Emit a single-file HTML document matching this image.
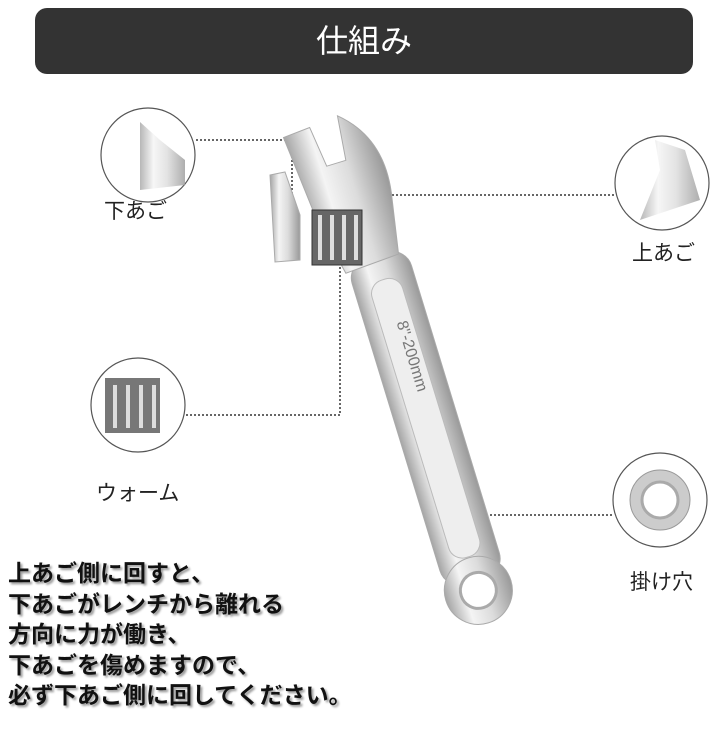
<!DOCTYPE html>
<html><head><meta charset="utf-8"><style>
html,body{margin:0;padding:0;background:#fff;width:720px;height:730px;overflow:hidden;font-family:"Liberation Sans","Noto Sans CJK JP",sans-serif;}
.hdr{position:absolute;left:35px;top:8px;width:658px;height:66px;background:#333;border-radius:12px;color:#fff;font-size:32px;text-align:center;line-height:66px;}
.lbl{position:absolute;font-size:21px;color:#222;}
.bt{position:absolute;left:8px;top:558px;font-size:23px;font-weight:bold;line-height:30.5px;color:#111;text-shadow:2px 2px 2px #999;white-space:nowrap;}
svg{position:absolute;left:0;top:0;}
</style></head><body>
<div class="hdr">仕組み</div>
<svg width="720" height="730">
<defs>
<linearGradient id="m" x1="0" x2="1"><stop offset="0" stop-color="#a5a5a5"/><stop offset=".3" stop-color="#f4f4f4"/><stop offset=".6" stop-color="#dcdcdc"/><stop offset="1" stop-color="#999"/></linearGradient>
</defs>
<g stroke="#333" stroke-width="1.5" stroke-dasharray="2,2" fill="none">
<polyline points="196,140 292,140 292,205"/>
<polyline points="614,195 360,195"/>
<polyline points="186,415 340,415 340,258"/>
<polyline points="612,515 465,515 465,555"/>
</g>
<g transform="rotate(-17 420 420)">
<rect x="395" y="250" width="62" height="340" rx="20" fill="url(#m)" stroke="#aaa"/>
<rect x="410" y="275" width="32" height="290" rx="14" fill="#eee" stroke="#bbb"/>
<circle cx="426" cy="600" r="34" fill="url(#m)" stroke="#aaa"/>
<circle cx="426" cy="600" r="18" fill="#fff" stroke="#aaa" stroke-width="3"/>
<path d="M372 110 L400 108 L405 150 L425 150 L430 105 Q470 140 458 200 L448 255 L392 258 L380 200 Z" fill="url(#m)" stroke="#aaa"/>
<text x="426" y="320" font-size="16" fill="#777" transform="rotate(90 426 320)">8"-200mm</text>
</g>
<path d="M270 175 L285 172 L300 215 L300 260 L275 262 Z" fill="url(#m)" stroke="#aaa"/>
<rect x="312" y="210" width="50" height="55" fill="#666" stroke="#333"/>
<g stroke="#ddd" stroke-width="4"><line x1="320" y1="215" x2="320" y2="260"/><line x1="332" y1="215" x2="332" y2="260"/><line x1="344" y1="215" x2="344" y2="260"/><line x1="356" y1="215" x2="356" y2="260"/></g>
<g fill="#fff" stroke="#555" stroke-width="1.2">
<circle cx="148" cy="155" r="47"/><circle cx="662" cy="183" r="47"/><circle cx="138" cy="405" r="47"/><circle cx="660" cy="500" r="47"/>
</g>
<path d="M140 122 L160 140 L185 160 L185 185 L140 190 Z" fill="url(#m)" opacity=".8"/>
<path d="M655 140 L685 150 L700 200 L640 220 L660 170 Z" fill="url(#m)" opacity=".8"/>
<rect x="105" y="378" width="55" height="55" fill="#777"/>
<g stroke="#ddd" stroke-width="4"><line x1="115" y1="385" x2="115" y2="428"/><line x1="128" y1="385" x2="128" y2="428"/><line x1="141" y1="385" x2="141" y2="428"/><line x1="154" y1="385" x2="154" y2="428"/></g>
<circle cx="660" cy="500" r="30" fill="#ccc" stroke="#999"/>
<circle cx="660" cy="500" r="18" fill="#fff" stroke="#aaa" stroke-width="3"/>
</svg>
<div class="lbl" style="left:104px;top:195px">下あご</div>
<div class="lbl" style="left:632px;top:237px">上あご</div>
<div class="lbl" style="left:96px;top:477px">ウォーム</div>
<div class="lbl" style="left:630px;top:566px">掛け穴</div>
<div class="bt">上あご側に回すと、<br>下あごがレンチから離れる<br>方向に力が働き、<br>下あごを傷めますので、<br>必ず下あご側に回してください。</div>
</body></html>
